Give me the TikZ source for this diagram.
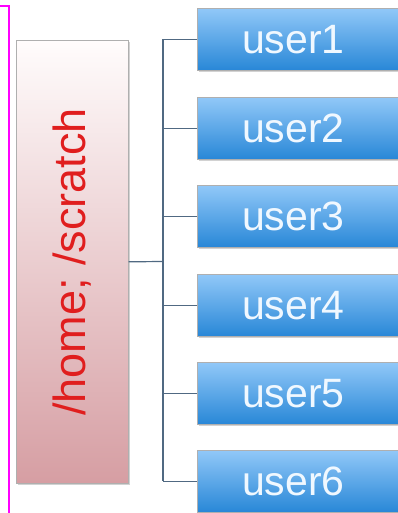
\documentclass[tikz,border=0pt]{standalone}
\usepackage{fontspec}
\setmainfont{Liberation Sans}
\usetikzlibrary{shadows}
\definecolor{bracketmag}{rgb}{1,0,1}
\definecolor{dirred}{RGB}{224,30,30}
\definecolor{pinkbot}{RGB}{214,158,163}
\definecolor{pinktop}{RGB}{255,252,252}
\definecolor{bluetop}{RGB}{145,200,248}
\definecolor{bluebot}{RGB}{40,135,215}
\definecolor{linecol}{RGB}{80,105,130}
\definecolor{boxborder}{RGB}{175,175,175}
\definecolor{usertext}{RGB}{240,248,255}
\begin{document}
\begin{tikzpicture}[x=1pt,y=-1pt,
  userbox/.style={draw=boxborder, line width=0.6pt, top color=bluetop, bottom color=bluebot,
    minimum width=201pt, minimum height=62pt, anchor=north west, inner sep=0pt,
    drop shadow={shadow xshift=1.5pt, shadow yshift=-2pt, opacity=0.35},
    font=\fontsize{41}{41}\selectfont, text=usertext},
  rootbox/.style={draw=boxborder, line width=0.6pt, top color=pinktop, bottom color=pinkbot,
    minimum width=112pt, minimum height=443pt, anchor=north west, inner sep=0pt,
    drop shadow={shadow xshift=1.5pt, shadow yshift=-2pt, opacity=0.35}},
  rootlabel/.style={rotate=90, text=dirred, font=\fontsize{45}{45}\selectfont, inner sep=0pt},
  conn/.style={draw=linecol, line width=1.2pt},
  bracket/.style={draw=bracketmag, line width=1.3pt}]
\useasboundingbox (0,0) rectangle (397,513);
\fill[white] (0,0) rectangle (397,513);
\node[rootbox] (root) at (16,40) {};
\node[rootlabel] (lbl) at (root.center) {/home; /scratch};
\node[userbox] (u1) at (197,8) {\kern-9pt user1};
\node[userbox] (u2) at (197,97) {\kern-9pt user2};
\node[userbox] (u3) at (197,185) {\kern-9pt user3};
\node[userbox] (u4) at (197,274) {\kern-9pt user4};
\node[userbox] (u5) at (197,362) {\kern-9pt user5};
\node[userbox] (u6) at (197,450) {\kern-9pt user6};
\coordinate (trunk) at (163,261.5);
\draw[conn] (root.east) -- (trunk);
\draw[conn] (trunk |- u1.west) -- (trunk |- u6.west);
\foreach \u in {u1,u2,u3,u4,u5,u6}{
  \draw[conn] (trunk |- \u.west) -- (\u.west);
}
\coordinate (bt) at (0,6);
\coordinate (bc) at (9,6);
\coordinate (bb) at (9,513);
\draw[bracket] (bt) -- (bc) -- (bb);
\end{tikzpicture}
\end{document}
